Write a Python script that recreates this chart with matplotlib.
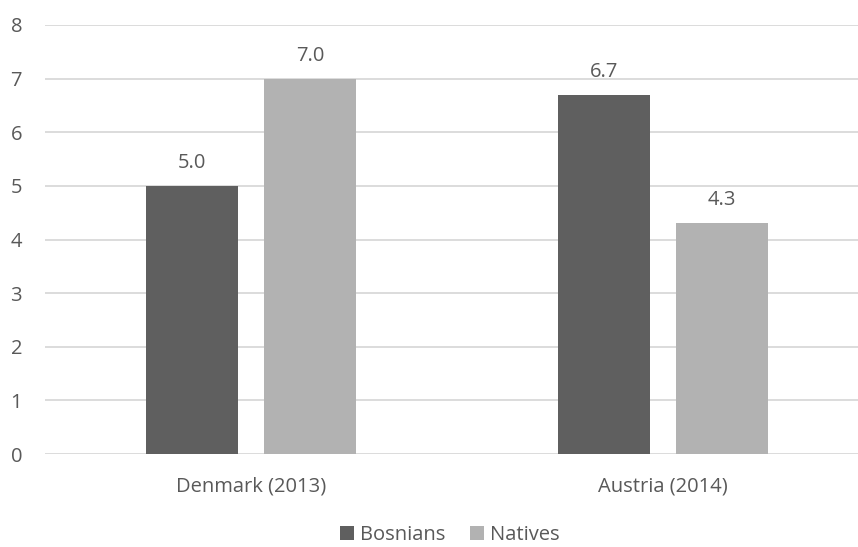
import matplotlib.pyplot as plt
import numpy as np

# data
categories = ['Denmark (2013)', 'Austria (2014)']
bosnians = [5.0, 6.7]
natives = [7.0, 4.3]
series_names = ['Bosnians', 'Natives']

plt.rcParams['font.family'] = ['Open Sans', 'DejaVu Sans']
txt = '#595959'
fs = 14.5

fig = plt.figure(figsize=(8.58, 5.47), dpi=100)
ax = fig.add_axes([45/858, 1-454/547, 1-45/858, (454-25)/547])

x = np.arange(len(categories))
w = 0.223
off = 0.143
b1 = ax.bar(x - off, bosnians, w, color='#5f5f5f', label=series_names[0], zorder=3)
b2 = ax.bar(x + off, natives, w, color='#b2b2b2', label=series_names[1], zorder=3)

# value labels above bars
for bars in (b1, b2):
    for r in bars:
        ax.annotate('%.1f' % r.get_height(),
                    (r.get_x() + r.get_width()/2, r.get_height()),
                    xytext=(0, 13), textcoords='offset points',
                    ha='center', va='baseline', fontsize=fs, color=txt)

ax.set_ylim(0, 8)
ax.set_xlim(-0.5, 1.473)
ax.set_yticks(range(0, 9))
ax.set_xticks(x)
ax.set_xticklabels(categories)
ax.tick_params(axis='both', length=0, labelsize=fs, colors=txt)
ax.tick_params(axis='x', pad=16)
ax.tick_params(axis='y', pad=16.5)
ax.grid(axis='y', color='#d9d9d9', linewidth=1.3, zorder=0)
for s in ax.spines.values():
    s.set_visible(False)

fig.legend(handles=[b1, b2], labels=series_names, loc='center',
           bbox_to_anchor=(450/858, 1-535/547), ncol=2, frameon=False,
           fontsize=fs, labelcolor=txt, handlelength=0.7, handleheight=0.7,
           handletextpad=0.3, columnspacing=1.2, borderpad=0)

plt.savefig('out.png', dpi=100)
plt.close()
